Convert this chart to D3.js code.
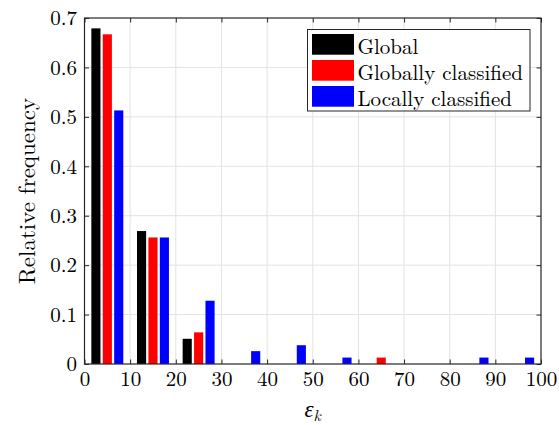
<!DOCTYPE html>
<html>
<head>
<meta charset="utf-8">
<script src="https://cdn.jsdelivr.net/npm/d3@7/dist/d3.min.js"></script>
<style>
  html, body { margin: 0; padding: 0; background: #fff; }
  svg { display: block; }
</style>
</head>
<body>
<svg id="chart" width="559" height="425"></svg>
<script>
// Histogram of the error measure in bins of width 10
const binEdges = [0, 10, 20, 30, 40, 50, 60, 70, 80, 90, 100];
const seriesNames = ["Global", "Globally classified", "Locally classified"];
const seriesColors = ["#000000", "#ff0000", "#0000ff"];
const globalFreq = [0.679, 0.269, 0.051, 0, 0, 0, 0, 0, 0, 0];
const globallyClassifiedFreq = [0.667, 0.256, 0.064, 0, 0, 0, 0.013, 0, 0, 0];
const locallyClassifiedFreq = [0.513, 0.256, 0.128, 0.026, 0.038, 0.013, 0, 0, 0.013, 0.013];
const xTicks = [0, 10, 20, 30, 40, 50, 60, 70, 80, 90, 100];
const yTicks = [0, 0.1, 0.2, 0.3, 0.4, 0.5, 0.6, 0.7];

const seriesValues = [globalFreq, globallyClassifiedFreq, locallyClassifiedFreq];

const FONT = '"Latin Modern Roman", "CMU Serif", "Liberation Serif", serif';

const svg = d3.select("#chart");
const plotLeft = 84.5, plotRight = 541, plotTop = 18, plotBottom = 364;

const x = d3.scaleLinear().domain([0, 100]).range([plotLeft, plotRight]);
const y = d3.scaleLinear().domain([0, 0.7]).range([plotBottom, plotTop]);

const axisColor = "#262626";
const gridColor = "#e3e3e3";
const tickLen = 4.5;

// grid
const grid = svg.append("g");
grid.selectAll("line.gx").data(xTicks.slice(1, -1)).join("line")
  .attr("x1", d => x(d)).attr("x2", d => x(d))
  .attr("y1", plotTop).attr("y2", plotBottom)
  .attr("stroke", gridColor).attr("stroke-width", 1);
grid.selectAll("line.gy").data(yTicks.slice(1, -1)).join("line")
  .attr("x1", plotLeft).attr("x2", plotRight)
  .attr("y1", d => y(d)).attr("y2", d => y(d))
  .attr("stroke", gridColor).attr("stroke-width", 1);

// grouped bars: three bars per bin, offsets of a quarter bin
const groupOffsets = [-2.5, 0, 2.5];
const barWidth = 2.0;
const bars = [];
seriesValues.forEach((vals, s) => {
  vals.forEach((v, i) => {
    if (v > 0) {
      const c = (binEdges[i] + binEdges[i + 1]) / 2 + groupOffsets[s];
      bars.push({ s, v, x0: c - barWidth / 2, x1: c + barWidth / 2 });
    }
  });
});
svg.append("g").selectAll("rect").data(bars).join("rect")
  .attr("x", d => x(d.x0))
  .attr("width", d => x(d.x1) - x(d.x0))
  .attr("y", d => y(d.v))
  .attr("height", d => y(0) - y(d.v))
  .attr("fill", d => seriesColors[d.s]);

// axes with inward ticks on all four sides
const axisFont = 21;
const xAxis = d3.axisBottom(x).tickValues(xTicks).tickSize(-tickLen).tickPadding(tickLen + 3).tickFormat(d3.format("d"));
const xAxisTop = d3.axisTop(x).tickValues(xTicks).tickSize(-tickLen).tickFormat("");
const yAxis = d3.axisLeft(y).tickValues(yTicks).tickSize(-tickLen).tickPadding(tickLen + 3).tickFormat(d => d === 0 ? "0" : d3.format(".1f")(d));
const yAxisRight = d3.axisRight(y).tickValues(yTicks).tickSize(-tickLen).tickFormat("");

function styleAxis(g) {
  g.attr("font-family", null).attr("font-size", null);
  g.select(".domain").remove();
  g.selectAll(".tick line").attr("stroke", axisColor).attr("stroke-width", 1);
  g.selectAll(".tick text")
    .style("font-family", FONT).style("font-size", axisFont + "px").attr("fill", "#000");
}
svg.append("g").attr("transform", `translate(0,${plotBottom})`).call(xAxis).call(styleAxis);
svg.append("g").attr("transform", `translate(0,${plotTop})`).call(xAxisTop).call(styleAxis);
svg.append("g").attr("transform", `translate(${plotLeft},0)`).call(yAxis).call(styleAxis);
svg.append("g").attr("transform", `translate(${plotRight},0)`).call(yAxisRight).call(styleAxis);

// axes box
svg.append("rect")
  .attr("x", plotLeft).attr("y", plotTop)
  .attr("width", plotRight - plotLeft).attr("height", plotBottom - plotTop)
  .attr("fill", "none").attr("stroke", axisColor).attr("stroke-width", 1.2);

// axis labels
svg.append("text")
  .attr("transform", `translate(25,${(plotTop + plotBottom) / 2}) rotate(-90)`)
  .attr("text-anchor", "middle").attr("dominant-baseline", "central")
  .style("font-family", FONT).style("font-size", "23px")
  .text("Relative frequency");

const xl = svg.append("text")
  .attr("x", (plotLeft + plotRight) / 2).attr("y", 417)
  .attr("text-anchor", "middle")
  .style("font-family", FONT).style("font-size", "23px").style("font-style", "italic");
xl.append("tspan").text("ε");
xl.append("tspan").attr("dy", 4).style("font-size", "16px").text("k");

// legend
const lg = svg.append("g");
lg.append("rect")
  .attr("x", 307.5).attr("y", 29.5).attr("width", 222.5).attr("height", 81.5)
  .attr("fill", "#fff").attr("stroke", axisColor).attr("stroke-width", 1);
seriesNames.forEach((name, i) => {
  const yy = 34 + i * 26;
  lg.append("rect").attr("x", 312).attr("y", yy).attr("width", 42).attr("height", 20.7)
    .attr("fill", seriesColors[i]);
  lg.append("text").attr("x", 357.5).attr("y", yy + 10.5)
    .attr("dominant-baseline", "central")
    .style("font-family", FONT).style("font-size", "21px")
    .text(name);
});
</script>
</body>
</html>
